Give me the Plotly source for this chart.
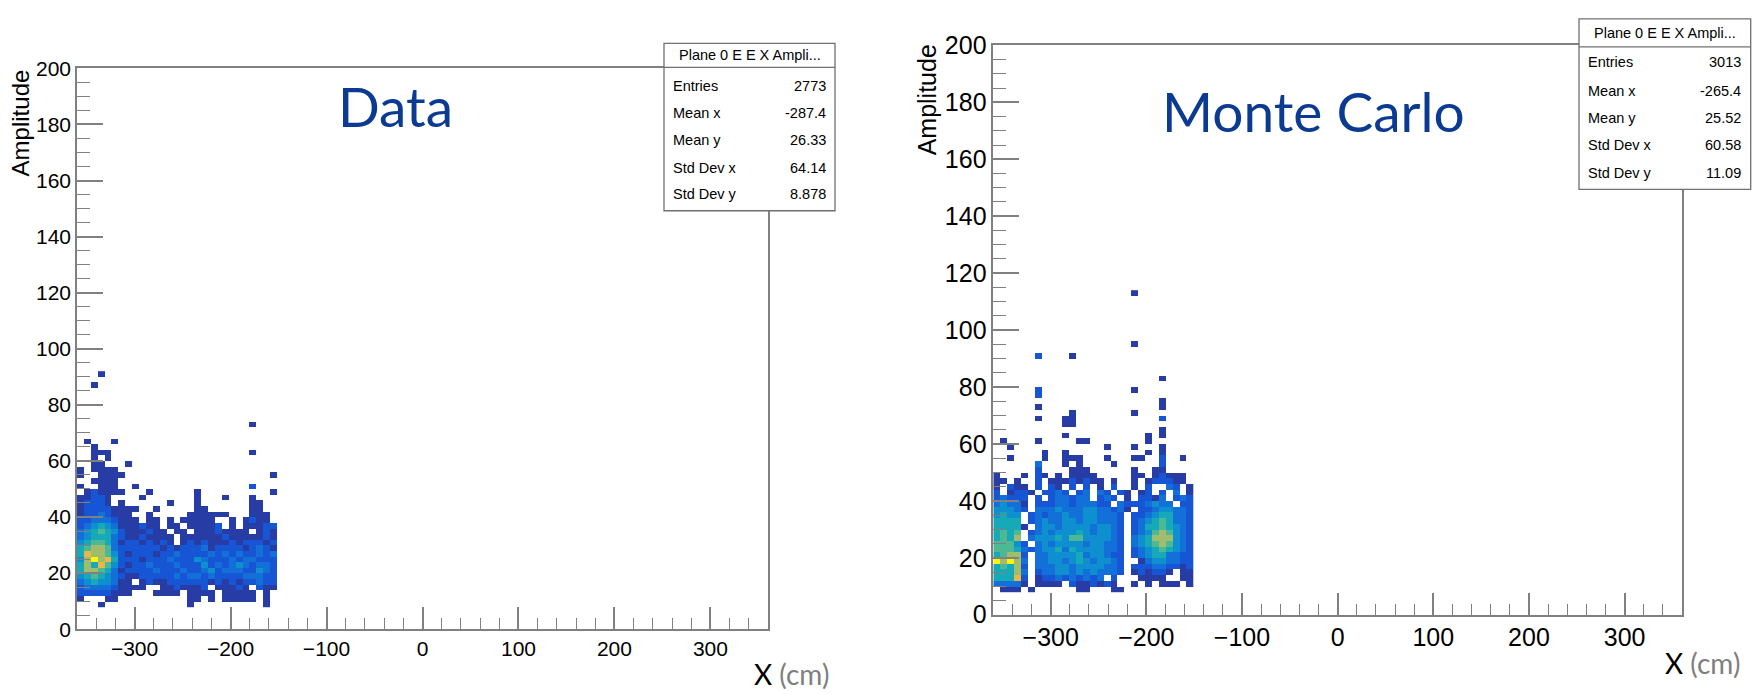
import plotly.graph_objects as go

W, H = 1757, 694

# ---- binning of both 2D histograms (ROOT TH2, 100 x 100 bins) ----
X_MIN, X_MAX, X_BIN = -360, 360, 7.2
Y_MIN, Y_MAX, Y_BIN = 0, 200, 2

# Colour level of every filled cell
# ('.' = empty, 1 = darkest blue ... 9 = yellow). One string per y-bin row,
# 29 x-bins starting at x = -360; '|' only groups the columns by tens.
data_top_row = 45          # first string is the bin y = 90..92
data_levels = [
    "...1......|..........|.........",
    "..........|..........|.........",
    "..1.......|..........|.........",
    "..........|..........|.........",
    "..........|..........|.........",
    "..........|..........|.........",
    "..........|..........|.........",
    "..........|..........|.........",
    "..........|..........|.........",
    "..........|..........|.....1...",
    "..........|..........|.........",
    "..........|..........|.........",
    ".1...1....|..........|.........",
    "..1.......|..........|.........",
    "..111.....|..........|.....1...",
    "..1.1.....|..........|.........",
    "..11...1..|..........|.........",
    "1.1111....|..........|.........",
    "1..1111...|..........|........1",
    "..1111....|..........|.........",
    "1..111..1.|..........|.....2...",
    ".121111...|1......1..|........1",
    "11221....1|.......1..|.1...1...",
    "12221.1...|...1...1..|.....11..",
    "122221111.|.1.....11.|.....11..",
    "12232111..|1.....1111|11...111.",
    "223332111.|11.1.11111|..1.1211.",
    "2345431112|11.11.1111|2.1.11122",
    "3456542111|211.11.111|21111.121",
    "3455532112|1111.11111|121111121",
    "4566531221|2121.12121|112122212",
    "5677632222|2212122231|222212321",
    "5877642122|2122322223|232322323",
    "4797852221|2223222432|223233222",
    "5758642122|3222322242|323432332",
    "5776531222|2322232234|233322432",
    "4565432112|2222323323|222233322",
    "34544311.1|2112222221|212122322",
    "2333321111|..1121112.|11121.211",
    "22222111..|.1111.1111|.11111.1.",
    "1...11....|......11.1|.11111.1.",
    "...1......|......1...|.......1.",
]

mc_top_row = 56            # first string is the bin y = 112..114
mc_levels = [
    "..........|..........|1........",
    "..........|..........|.........",
    "..........|..........|.........",
    "..........|..........|.........",
    "..........|..........|.........",
    "..........|..........|.........",
    "..........|..........|.........",
    "..........|..........|.........",
    "..........|..........|.........",
    "..........|..........|1........",
    "..........|..........|.........",
    "......2...|.1........|.........",
    "..........|..........|.........",
    "..........|..........|.........",
    "..........|..........|.........",
    "..........|..........|....1....",
    "..........|..........|.........",
    "......2...|..........|1........",
    "......2...|..........|.........",
    "..........|..........|....1....",
    "......1...|..........|....1....",
    "..........|.1........|1........",
    "......1...|11........|....2....",
    "..........|11........|.........",
    "..........|..........|....1....",
    "..........|1.........|..1.1....",
    ".1....1...|..11......|..1......",
    "..1.......|......1...|1...1....",
    ".......1..|1.........|..1.1....",
    "..1....1..|111...1...|11..2..1.",
    "......3...|1.1....1..|....2....",
    "......2...|.111......|1..11....",
    "1...1.21.1|.1111.....|11.12111.",
    "11.1..2.11|121211.1..|1.122211.",
    "1.211.2.21|.2.2.1.2..|1.2..32.1",
    "2.1221.223|2.23.32.21|.12.2.3.1",
    "23222.2.23|3233.232.1|.2213.232",
    "34331.2223|3233322.32|223433.22",
    "44432.3334|3334433231|.22344332",
    "4544.23233|433443332.|223455332",
    "5555.23433|443443332.|234565332",
    "55551.3443|444434432.|235565432",
    "5656.23434|445434432.|234676432",
    "5657.34445|466444432.|345777432",
    "66642.3434|444344332.|345676432",
    "6665323445|354444332.|234565432",
    "56772.3344|445344322.|234553322",
    "97973.3344|345434432.|.13443322",
    "56572.3334|434444332.|222332212",
    "55573.2334|434343332.|121221.11",
    "55582.1223|232323.2..|.1111..11",
    "33331.1111|.2112121..|1.1.111.1",
    ".111.1....|..11...11.|.........",
]

stats_title = "Plane 0 E E X Ampli..."
stats_labels = ["Entries", "Mean x", "Mean y", "Std Dev x", "Std Dev y"]
data_stats = ["2773", "-287.4", "26.33", "64.14", "8.878"]
mc_stats = ["3013", "-265.4", "25.52", "60.58", "11.09"]

# kBird-like palette sampled at the colour levels seen in the picture
LEVEL_COLORS = ["#283CA6", "#1656D4", "#1270D8", "#0E8FD0", "#16AAB9",
                "#4CB894", "#A0BC6C", "#E6B846", "#FAF50E"]


def parse(rows, top_row):
    rows = [r.replace("|", "") for r in rows]
    ncol = len(rows[0])
    z, y = [], []
    for i, s in enumerate(reversed(rows)):
        r = top_row - (len(rows) - 1 - i)
        y.append(Y_MIN + Y_BIN * (r + 0.5))
        z.append([None if ch == "." else int(ch) for ch in s])
    x = [X_MIN + X_BIN * (c + 0.5) for c in range(ncol)]
    return x, y, z


def px(v):
    return v / W


def py(v):
    return 1 - v / H


fig = go.Figure()
colorscale = [[i / (len(LEVEL_COLORS) - 1), c] for i, c in enumerate(LEVEL_COLORS)]

for rows, top, xa, ya in [(data_levels, data_top_row, "x", "y"),
                          (mc_levels, mc_top_row, "x2", "y2")]:
    x, y, z = parse(rows, top)
    fig.add_trace(go.Heatmap(x=x, y=y, z=z, xaxis=xa, yaxis=ya,
                             colorscale=colorscale, zmin=1, zmax=9,
                             showscale=False, hoverinfo="skip"))

AX = "#808080"


def xaxis(domain, anchor, size):
    return dict(domain=domain, anchor=anchor, range=[X_MIN, X_MAX],
                dtick=100, tick0=0, ticks="inside", ticklen=22, tickwidth=1.5,
                tickcolor=AX, showline=True, linecolor=AX, linewidth=1.5,
                mirror=True, showgrid=False, zeroline=False,
                tickfont=dict(family="Liberation Sans, Arial", size=size, color="black"),
                minor=dict(ticks="inside", ticklen=11, dtick=20, tick0=0,
                           tickcolor=AX, tickwidth=1.2, showgrid=False))


def yaxis(domain, anchor, size):
    return dict(domain=domain, anchor=anchor, range=[Y_MIN, Y_MAX],
                dtick=20, tick0=0, ticks="inside", ticklen=26, tickwidth=1.5,
                tickcolor=AX, showline=True, linecolor=AX, linewidth=1.5,
                mirror=True, showgrid=False, zeroline=False,
                tickfont=dict(family="Liberation Sans, Arial", size=size, color="black"),
                minor=dict(ticks="inside", ticklen=13, dtick=5, tick0=0,
                           tickcolor=AX, tickwidth=1.2, showgrid=False))


shapes, annotations = [], []


def text(t, x, y, size, color="black", xanchor="left", yanchor="middle",
         family="Liberation Sans, Arial", angle=0):
    annotations.append(dict(text=t, x=px(x), y=py(y), xref="paper", yref="paper",
                            xanchor=xanchor, yanchor=yanchor, showarrow=False,
                            textangle=angle,
                            font=dict(family=family, size=size, color=color)))


def stats_box(x0, x1, y0, yh, y1, title_y, rows_y, lab_x, val_x, values, size):
    shapes.append(dict(type="rect", xref="paper", yref="paper", layer="above",
                       x0=px(x0), x1=px(x1), y0=py(y1), y1=py(y0),
                       fillcolor="white", line=dict(color="#707070", width=1.3)))
    shapes.append(dict(type="line", xref="paper", yref="paper", layer="above",
                       x0=px(x0), x1=px(x1), y0=py(yh), y1=py(yh),
                       line=dict(color="#707070", width=1.3)))
    text(stats_title, (x0 + x1) / 2, title_y, size, xanchor="center")
    for lab, val, yy in zip(stats_labels, values, rows_y):
        text(lab, lab_x, yy, size)
        text(val, val_x, yy, size, xanchor="right")


stats_box(664, 835, 30.7, 55.7, 205, 43, [75, 103, 131, 160, 188], 671, 828, data_stats, 14.5)
stats_box(1579, 1750.7, 5, 34.3, 182.7, 20, [50, 80, 108, 137, 166], 1586, 1743, mc_stats, 14.5)

TITLE_BLUE = "#0B3A93"
text("Data", 336, 96, 55, TITLE_BLUE, family="Lato")
text("Monte Carlo", 1160, 101, 55, TITLE_BLUE, family="Lato")
text("Amplitude", 20, 114, 24, xanchor="center", angle=-90)
text("Amplitude", 927, 90, 25, xanchor="center", angle=-90)
text("X <span style='color:#7F7F7F'>(cm)</span>", 752, 688, 28, family="Lato")
text("X <span style='color:#7F7F7F'>(cm)</span>", 1663, 676, 28, family="Lato")

fig.update_layout(
    width=W, height=H, margin=dict(l=0, r=0, t=0, b=0),
    paper_bgcolor="white", plot_bgcolor="white", showlegend=False,
    xaxis=xaxis([px(77), px(768)], "y", 21),
    yaxis=yaxis([py(641), py(56.7)], "x", 21),
    xaxis2=xaxis([px(993.3), px(1682)], "y2", 25),
    yaxis2=yaxis([py(626), py(32.7)], "x2", 25),
    shapes=shapes, annotations=annotations,
)

fig.write_html("out.html")
